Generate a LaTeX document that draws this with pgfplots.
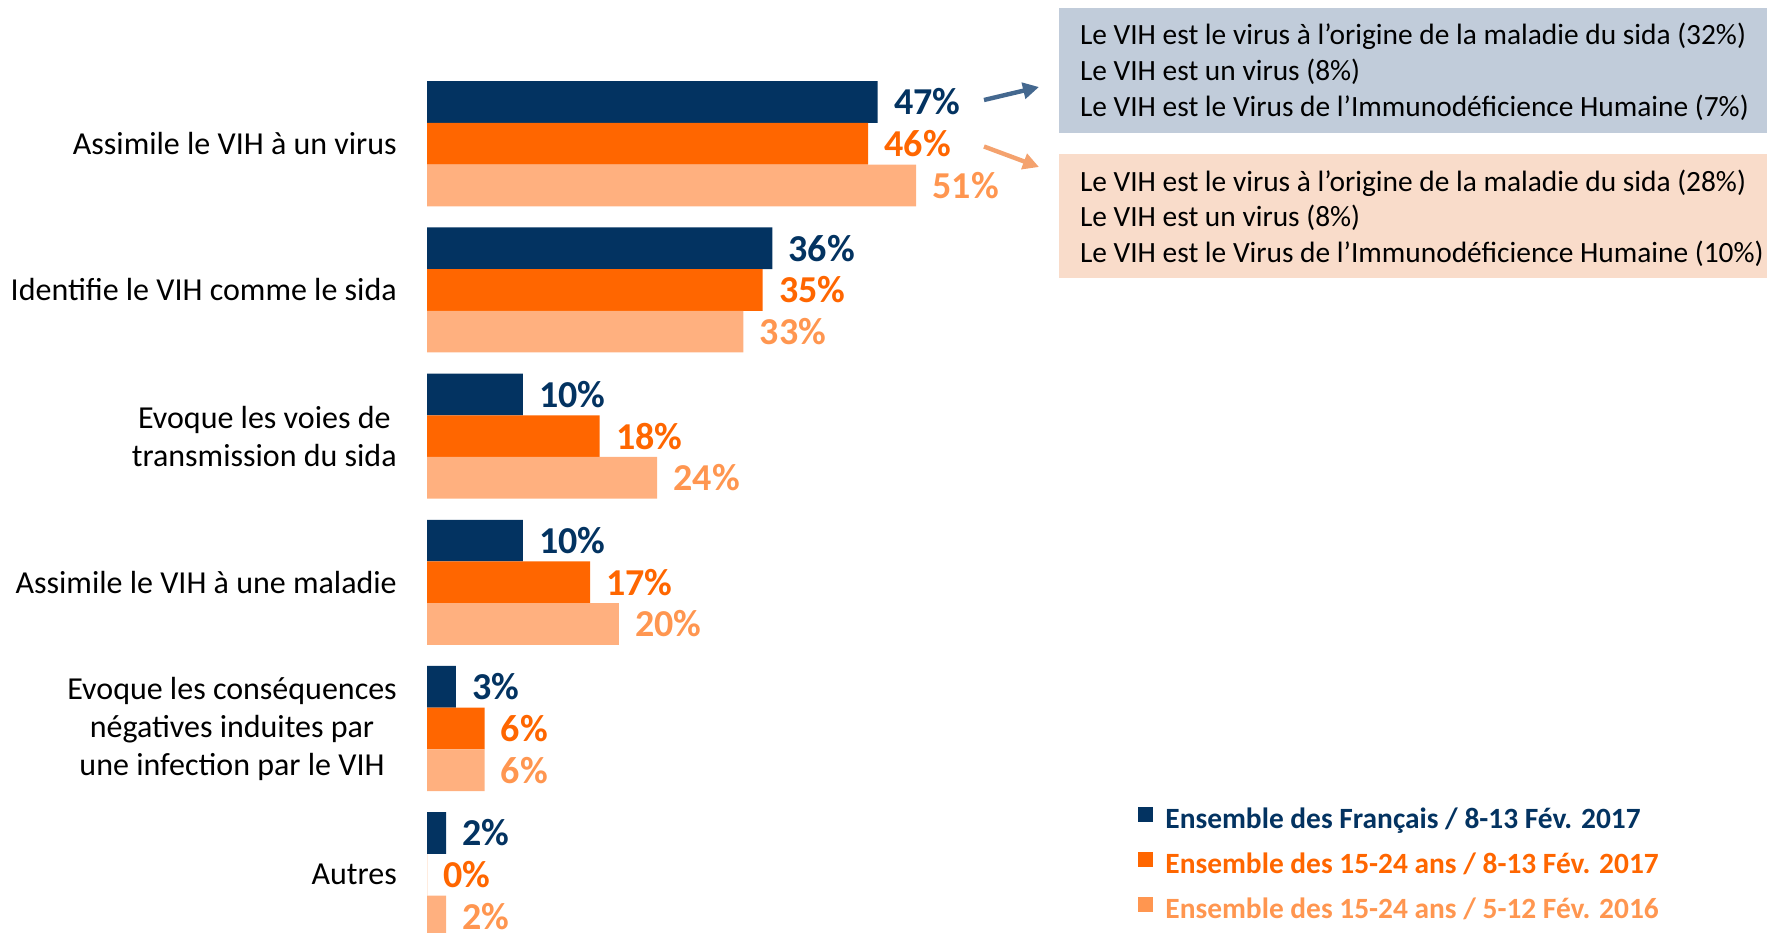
\documentclass[border=0pt]{standalone}
\usepackage{fontspec}
\setmainfont{Carlito}
\usepackage{pgfplots}
\pgfplotsset{compat=1.18}
\usetikzlibrary{arrows.meta}
\definecolor{navy}{RGB}{3,51,97}
\definecolor{orng}{RGB}{255,102,0}
\definecolor{lightbar}{RGB}{255,176,127}
\definecolor{lightlbl}{RGB}{255,150,80}
\definecolor{boxblue}{RGB}{193,204,218}
\definecolor{boxorange}{RGB}{249,220,202}
\definecolor{arrowblue}{RGB}{68,104,143}
\definecolor{arroworange}{RGB}{244,162,110}
\begin{document}
\begin{tikzpicture}
\useasboundingbox (0,0) rectangle (883.5pt,-466pt);
\begin{scope}[x=0.5pt,y=-0.5pt]
  \fill[boxblue] (1059,7.9) rectangle (1790,133);
  \fill[boxorange] (1059,154) rectangle (1790,278);
  \begin{scope}[every node/.style={anchor=base west, inner sep=0pt, font=\fontsize{14.7}{18}\selectfont}]
    \node at (1079.6,44.6) {Le VIH est le virus à l’origine de la maladie du sida (32\%)};
    \node at (1079.6,80.6) {Le VIH est un virus (8\%)};
    \node at (1079.6,116.6) {Le VIH est le Virus de l’Immunodéficience Humaine (7\%)};
    \node at (1079.6,191) {Le VIH est le virus à l’origine de la maladie du sida (28\%)};
    \node at (1079.6,226) {Le VIH est un virus (8\%)};
    \node at (1079.6,262) {Le VIH est le Virus de l’Immunodéficience Humaine (10\%)};
  \end{scope}
  \draw[arrowblue, line width=2.2pt, -{Triangle[length=8pt,width=8pt]}] (984,100) -- (1039,87);
  \draw[arroworange, line width=2.2pt, -{Triangle[length=8pt,width=8pt]}] (984,146.5) -- (1039,167);
\end{scope}
\begin{axis}[
  at={(213.5pt,-437.35pt)}, anchor=origin,
  x=4.795pt, y=73.1pt,
  xmin=0, xmax=60, ymin=-0.6, ymax=5.6,
  xbar, bar width=20.85pt,
  axis line style={draw=none}, tick style={draw=none},
  xtick=\empty, ytick={0,1,2,3,4,5},
  yticklabels={{Autres},{Evoque les conséquences\\négatives induites par\\une infection par le VIH},{Assimile le VIH à une maladie},{Evoque les voies de\\transmission du sida},{Identifie le VIH comme le sida},{Assimile le VIH à un virus}},
  yticklabel style={align=center, font=\fontsize{16}{19}\selectfont, inner sep=0pt, xshift=-10.65pt},
  clip=false,
  /pgf/number format/assume math mode=true,
  nodes near coords={\pgfmathprintnumber{\pgfplotspointmeta}\%},
  nodes near coords style={font=\bfseries\fontsize{19}{19}\selectfont, inner sep=0pt, xshift=8pt, anchor=west},
  legend style={at={(1.2357,0.1722)}, anchor=north west, draw=none, fill=none, inner sep=0pt,
    row sep=8.5pt, column sep=6pt, font=\bfseries\fontsize{14.7}{14.7}\selectfont,
    nodes={inner sep=0pt, text height=11pt, text depth=3pt}},
  legend cell align=left,
]
\addplot[fill=navy, draw=none, bar shift=20.85pt, every node near coord/.append style={text=navy},
  legend image code/.code={\fill[navy] (0pt,-0.75pt) rectangle (7.5pt,6.75pt);}]
  coordinates {(47,5) (36,4) (10,3) (10,2) (3,1) (2,0)};
\addlegendentry[text=navy]{Ensemble des Français / 8-13 Fév. 2017}
\addplot[fill=orng, draw=none, bar shift=0pt, every node near coord/.append style={text=orng},
  legend image code/.code={\fill[orng] (0pt,-0.75pt) rectangle (7.5pt,6.75pt);}]
  coordinates {(46,5) (35,4) (18,3) (17,2) (6,1) (0,0)};
\addlegendentry[text=orng]{Ensemble des 15-24 ans / 8-13 Fév. 2017}
\addplot[fill=lightbar, draw=none, bar shift=-20.85pt, every node near coord/.append style={text=lightlbl},
  legend image code/.code={\fill[lightlbl] (0pt,-0.75pt) rectangle (7.5pt,6.75pt);}]
  coordinates {(51,5) (33,4) (24,3) (20,2) (6,1) (2,0)};
\addlegendentry[text=lightlbl]{Ensemble des 15-24 ans / 5-12 Fév. 2016}
\end{axis}
\end{tikzpicture}
\end{document}
